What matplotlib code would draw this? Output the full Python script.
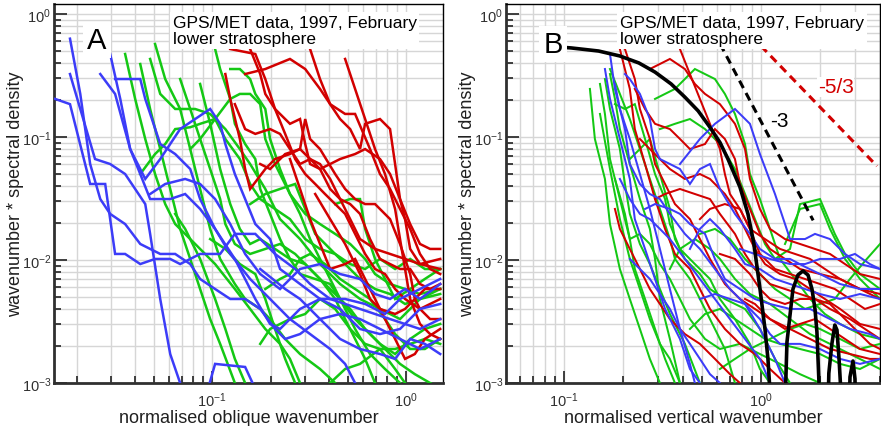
import matplotlib
matplotlib.use('Agg')
from matplotlib import pyplot as plt
from matplotlib.ticker import LogLocator, NullFormatter
import numpy as np

plt.rcParams['font.family'] = ['Liberation Sans', 'DejaVu Sans']
plt.rcParams['lines.scale_dashes'] = False

BLUE = '#3c3cf8'
GREEN = '#14c814'
RED = '#d20000'

# ---------- panel A: normalised oblique wavenumber ----------
a_blue_k = [
    [0.0155, 0.0185, 0.0235, 0.0281, 0.0298, 0.0316, 0.0356, 0.0426, 0.0508, 0.0608, 0.0684, 0.0867,
     0.110, 0.131, 0.167, 0.211, 0.268, 0.320, 0.406, 0.579, 0.827, 1.18, 1.50],
    [0.0185, 0.0249, 0.0298, 0.0356, 0.0401, 0.0452, 0.0479, 0.0540, 0.0608, 0.0684, 0.0726],
    [0.0185, 0.0209, 0.0235, 0.0265, 0.0298, 0.0356, 0.0426, 0.0540, 0.0645, 0.0771, 0.0867, 0.1036,
     0.124, 0.148, 0.177, 0.211, 0.238, 0.284, 0.360, 0.457, 0.579, 0.734, 0.931, 1.18, 1.50],
    [0.0265, 0.0316, 0.0378, 0.0452, 0.0540, 0.0684, 0.0977, 0.110, 0.117, 0.131, 0.148, 0.167,
     0.199, 0.224, 0.284, 0.360, 0.457, 0.579, 0.734, 0.931, 1.18, 1.50],
    [0.0316, 0.0426, 0.0452, 0.0540, 0.0645, 0.0771, 0.0867, 0.1036, 0.124, 0.157, 0.199, 0.252,
     0.320, 0.406, 0.485, 0.546, 0.615],
    [0.0298, 0.0336, 0.0378, 0.0426, 0.0479, 0.0608, 0.0726, 0.0867, 0.1036, 0.131, 0.167, 0.199,
     0.224, 0.284, 0.360, 0.485, 0.615, 0.779, 0.931, 1.18, 1.50],
    [0.177, 0.238, 0.284, 0.360, 0.457, 0.579, 0.734, 0.878, 1.05, 1.25, 1.50],
    [0.0479, 0.0573, 0.0726, 0.0867, 0.1036, 0.124, 0.148, 0.177, 0.224, 0.284, 0.360, 0.457,
     0.579, 0.692, 0.827, 0.988, 1.18, 1.50],
    [0.0920, 0.1036, 0.148, 0.167],
]
a_blue_s = [
    [0.204, 0.185, 0.0415, 0.0415, 0.0215, 0.0112, 0.0112, 0.00927, 0.0102, 0.0102, 0.00927, 0.0112,
     0.0112, 0.0163, 0.0163, 0.0112, 0.00845, 0.00638, 0.00482, 0.00400, 0.00331, 0.00275, 0.00331],
    [0.325, 0.0662, 0.0603, 0.0500, 0.0378, 0.0285, 0.0163, 0.00482, 0.00172, 0.001, 0.000741],
    [0.63, 0.224, 0.0603, 0.0313, 0.0237, 0.0196, 0.0135, 0.0112, 0.0112, 0.00927, 0.00701, 0.00581,
     0.00482, 0.00482, 0.0040, 0.00275, 0.00228, 0.0025, 0.00331, 0.00364, 0.00331, 0.00275, 0.00228,
     0.00189, 0.00228],
    [0.325, 0.224, 0.0798, 0.0456, 0.0662, 0.116, 0.169, 0.128, 0.0877, 0.0500, 0.0313, 0.0196,
     0.0148, 0.00845, 0.00638, 0.00482, 0.0040, 0.00275, 0.0025, 0.00275, 0.0040, 0.00439],
    [0.296, 0.296, 0.204, 0.0877, 0.0727, 0.0549, 0.0313, 0.0179, 0.0112, 0.00701, 0.00482, 0.00331,
     0.0025, 0.00189, 0.00143, 0.001, 0.000741],
    [0.473, 0.204, 0.0798, 0.0500, 0.0313, 0.0313, 0.0344, 0.0260, 0.0179, 0.0102, 0.00482, 0.00302,
     0.00275, 0.0040, 0.00482, 0.00482, 0.00439, 0.00364, 0.00482, 0.00581, 0.00701],
    [0.00845, 0.00581, 0.00482, 0.00331, 0.00228, 0.00189, 0.00172, 0.00157, 0.00228, 0.00208, 0.00172],
    [0.0344, 0.0415, 0.0456, 0.0415, 0.0313, 0.0196, 0.0112, 0.00769, 0.00581, 0.00845, 0.00927,
     0.00769, 0.00701, 0.00529, 0.00482, 0.00581, 0.00482, 0.00638],
    [0.000741, 0.00143, 0.00135, 0.000894],
]

a_green_k = [
    [0.0356, 0.0401, 0.0452, 0.0508, 0.0573, 0.0645, 0.0771, 0.0867, 0.1036, 0.131, 0.157, 0.188,
     0.224, 0.252, 0.284, 0.320],
    [0.0426, 0.0479, 0.0540, 0.0608, 0.0684, 0.0771, 0.0867, 0.0977, 0.110, 0.131, 0.148],
    [0.0479, 0.0540, 0.0645, 0.0817, 0.0977, 0.117, 0.139, 0.157, 0.188, 0.224, 0.284, 0.360,
     0.457, 0.579, 0.734, 0.931, 1.18, 1.50],
    [0.0508, 0.0573, 0.0684, 0.0771, 0.0867, 0.0977, 0.110, 0.131, 0.148, 0.177, 0.199, 0.238,
     0.284, 0.360, 0.431, 0.485],
    [0.0426, 0.0508, 0.0573, 0.0645, 0.0771, 0.0867, 0.1036, 0.117, 0.139, 0.157, 0.177, 0.211,
     0.252, 0.302, 0.360, 0.431, 0.515, 0.615, 0.734, 0.878, 1.05, 1.25, 1.50],
    [0.0684, 0.0771, 0.0867, 0.0977, 0.110, 0.117, 0.131, 0.157, 0.188, 0.224, 0.268, 0.320,
     0.382, 0.457, 0.546, 0.652, 0.779, 0.931, 1.11, 1.33, 1.50],
    [0.1036, 0.110, 0.124, 0.131, 0.148, 0.167, 0.177, 0.199, 0.224, 0.252, 0.284, 0.340,
     0.406, 0.457, 0.515, 0.615, 0.734, 0.878, 1.05, 1.25, 1.50],
    [0.0867, 0.0977, 0.110, 0.124, 0.139, 0.157, 0.177, 0.211, 0.252, 0.302, 0.360, 0.431,
     0.485, 0.546, 0.615, 0.692, 0.779],
    [0.0771, 0.0867, 0.1036, 0.124, 0.139, 0.157, 0.177, 0.188, 0.211, 0.252, 0.302, 0.360,
     0.431, 0.515, 0.615, 0.692, 0.827, 0.988, 1.18, 1.50],
    [0.124, 0.139, 0.157, 0.167, 0.188, 0.199, 0.224, 0.252, 0.284, 0.320, 0.360, 0.431,
     0.485, 0.546, 0.652, 0.779, 0.931, 1.05],
    [0.157, 0.188, 0.224, 0.268, 0.302, 0.340, 0.406, 0.485, 0.579, 0.692, 0.827, 0.988, 1.18, 1.50],
    [0.188, 0.224, 0.252, 0.284, 0.320, 0.382, 0.457, 0.546, 0.652, 0.779, 0.878, 1.05, 1.25, 1.50],
    [0.177, 0.199, 0.252, 0.302, 0.360, 0.431, 0.515, 0.615, 0.734, 0.878, 0.988, 1.11],
    [0.406, 0.485, 0.579, 0.734, 0.878, 1.05, 1.25, 1.50],
    [0.431, 0.515, 0.579, 0.615, 0.692, 0.779, 0.878, 1.05, 1.25, 1.50],
    [0.0645, 0.0726, 0.0867, 0.1036, 0.117, 0.131, 0.148, 0.157],
    [0.0977, 0.117, 0.139, 0.167, 0.188, 0.211, 0.238, 0.268],
]
a_green_s = [
    [0.473, 0.204, 0.0964, 0.0500, 0.0285, 0.0196, 0.0148, 0.0123, 0.00927, 0.00581, 0.0040, 0.00275,
     0.00208, 0.00157, 0.001, 0.000741],
    [0.392, 0.169, 0.0798, 0.0378, 0.0179, 0.0102, 0.00581, 0.00331, 0.00208, 0.001, 0.000741],
    [0.431, 0.224, 0.169, 0.169, 0.154, 0.116, 0.0798, 0.0603, 0.0378, 0.0215, 0.0148, 0.00927,
     0.00638, 0.00482, 0.0040, 0.00331, 0.00482, 0.00581],
    [0.570, 0.296, 0.169, 0.0798, 0.0378, 0.0179, 0.0102, 0.00638, 0.00482, 0.0040, 0.00331, 0.00228,
     0.00172, 0.0013, 0.001, 0.000741],
    [0.0500, 0.0727, 0.0877, 0.116, 0.120, 0.128, 0.140, 0.0964, 0.0662, 0.0415, 0.0313, 0.0260,
     0.0215, 0.0148, 0.0123, 0.0112, 0.00927, 0.00845, 0.0102, 0.00845, 0.0102, 0.00845, 0.00845],
    [0.296, 0.169, 0.0964, 0.0549, 0.0313, 0.0196, 0.0135, 0.0112, 0.0123, 0.0135, 0.0112, 0.00845,
     0.00638, 0.00482, 0.00331, 0.0025, 0.00189, 0.00143, 0.00118, 0.001, 0.000894],
    [0.519, 0.357, 0.204, 0.128, 0.0877, 0.0662, 0.0378, 0.0237, 0.0148, 0.0102, 0.00769, 0.00701,
     0.00638, 0.00482, 0.0040, 0.00275, 0.00208, 0.00172, 0.00228, 0.00275, 0.00302],
    [0.270, 0.128, 0.0549, 0.0285, 0.0179, 0.0135, 0.0148, 0.0123, 0.0102, 0.00927, 0.00701, 0.00482,
     0.00331, 0.00228, 0.00157, 0.001, 0.000741],
    [0.0798, 0.0964, 0.140, 0.204, 0.224, 0.224, 0.185, 0.0964, 0.0603, 0.0344, 0.0237, 0.0196,
     0.0163, 0.0135, 0.0102, 0.00769, 0.00638, 0.00581, 0.00529, 0.00581],
    [0.357, 0.357, 0.296, 0.224, 0.169, 0.0964, 0.0549, 0.0344, 0.0237, 0.0148, 0.0102, 0.00581,
     0.0040, 0.00275, 0.00172, 0.0013, 0.001, 0.00081],
    [0.0285, 0.0344, 0.0378, 0.0415, 0.0260, 0.0163, 0.0123, 0.00927, 0.00701, 0.00581, 0.00529,
     0.00439, 0.00482, 0.00529],
    [0.00581, 0.00701, 0.00769, 0.0102, 0.0112, 0.00927, 0.00701, 0.00581, 0.00482, 0.00331, 0.0025,
     0.00189, 0.00189, 0.00228],
    [0.00208, 0.00275, 0.00331, 0.00364, 0.00482, 0.0040, 0.00275, 0.00208, 0.00189, 0.0013, 0.001, 0.00081],
    [0.001, 0.0013, 0.00143, 0.00189, 0.00189, 0.00208, 0.00228, 0.00208],
    [0.0285, 0.0313, 0.0313, 0.0179, 0.0102, 0.00701, 0.00482, 0.00581, 0.00701, 0.00845],
    [0.0237, 0.0179, 0.0102, 0.00482, 0.00275, 0.00157, 0.001, 0.000741],
    [0.0148, 0.0123, 0.00927, 0.00769, 0.00482, 0.00275, 0.00157, 0.001],
]

a_red_k = [
    [0.124, 0.167, 0.188, 0.211, 0.238, 0.268, 0.302, 0.340, 0.382, 0.431, 0.485, 0.546, 0.615,
     0.692, 0.779, 0.878, 0.988, 1.18, 1.50],
    [0.117, 0.124, 0.139, 0.148, 0.157, 0.188, 0.211, 0.252, 0.284, 0.320, 0.360, 0.406, 0.457,
     0.515, 0.579, 0.692, 0.827, 0.988, 1.18, 1.50],
    [0.148, 0.188, 0.252, 0.302, 0.360, 0.406, 0.485, 0.546, 0.652, 0.734, 0.827, 0.931, 1.05,
     1.18, 1.33, 1.50],
    [0.157, 0.177, 0.188, 0.211, 0.252, 0.284, 0.302, 0.320, 0.360, 0.406, 0.457, 0.546, 0.615,
     0.734, 0.827, 0.931, 1.05, 1.18, 1.33, 1.50],
    [0.320, 0.360, 0.406, 0.457, 0.515, 0.579, 0.615, 0.734, 0.827, 0.878, 0.931, 0.988, 1.05, 1.18, 1.50],
    [0.131, 0.148, 0.167, 0.199, 0.224, 0.252, 0.284, 0.320, 0.360, 0.406, 0.457, 0.515, 0.579,
     0.652, 0.734, 0.827, 0.931, 1.05, 1.18, 1.33, 1.50],
    [0.177, 0.199, 0.238, 0.284, 0.302, 0.320, 0.360, 0.431, 0.485, 0.546, 0.615, 0.692, 0.827,
     0.931, 1.05, 1.11, 1.18, 1.33, 1.50],
    [0.252, 0.284, 0.320, 0.360, 0.406, 0.485, 0.546, 0.615, 0.692, 0.779, 0.878, 0.988, 1.11, 1.25, 1.50],
    [0.340, 0.406, 0.485, 0.579, 0.652, 0.734, 0.878, 0.988, 1.11, 1.25, 1.50],
    [0.485, 0.546, 0.615, 0.692, 0.779, 0.878, 0.931, 0.988, 1.05, 1.18, 1.33, 1.50],
]
a_red_s = [
    [0.519, 0.473, 0.296, 0.169, 0.106, 0.0662, 0.0500, 0.0415, 0.0344, 0.0285, 0.0237, 0.0163, 0.0112,
     0.00845, 0.00769, 0.00581, 0.00482, 0.0040, 0.00482],
    [0.325, 0.204, 0.0964, 0.0549, 0.0378, 0.0549, 0.0662, 0.0727, 0.0798, 0.0662, 0.0603, 0.0456,
     0.0313, 0.0215, 0.0148, 0.0123, 0.0112, 0.0102, 0.00927, 0.00845],
    [0.325, 0.357, 0.431, 0.357, 0.246, 0.185, 0.154, 0.154, 0.0798, 0.0500, 0.0378, 0.0260, 0.0179,
     0.0112, 0.00845, 0.00769],
    [0.519, 0.325, 0.224, 0.169, 0.128, 0.140, 0.0877, 0.0603, 0.0549, 0.0603, 0.0662, 0.0727, 0.0798,
     0.0662, 0.0500, 0.0313, 0.0196, 0.0135, 0.0123, 0.0123],
    [0.519, 0.296, 0.185, 0.140, 0.116, 0.0798, 0.128, 0.140, 0.116, 0.0603, 0.0313, 0.0215, 0.0123,
     0.00927, 0.0102],
    [0.185, 0.116, 0.106, 0.116, 0.106, 0.0798, 0.0603, 0.0662, 0.0549, 0.0378, 0.0313, 0.0285, 0.0237,
     0.0148, 0.0102, 0.00927, 0.00845, 0.00845, 0.00638, 0.00581, 0.00638],
    [0.0603, 0.0549, 0.0727, 0.0798, 0.140, 0.0964, 0.0798, 0.0500, 0.0378, 0.0313, 0.0285, 0.0285,
     0.0215, 0.0135, 0.00769, 0.00482, 0.0040, 0.00331, 0.00331],
    [0.0662, 0.0378, 0.0215, 0.0135, 0.00845, 0.00927, 0.0102, 0.00701, 0.00482, 0.00331, 0.00228,
     0.00157, 0.00172, 0.00228, 0.00275],
    [0.0344, 0.0215, 0.0135, 0.00769, 0.00482, 0.0040, 0.00364, 0.0040, 0.00482, 0.00581, 0.00581],
    [0.431, 0.246, 0.140, 0.0798, 0.0500, 0.0260, 0.0148, 0.00845, 0.00482, 0.00302, 0.0025, 0.00228],
]

# ---------- panel B: normalised vertical wavenumber ----------
b_green_k = [
    [0.1524, 0.1615, 0.1713, 0.1923, 0.216, 0.229, 0.258, 0.290, 0.326, 0.366, 0.388],
    [0.1615, 0.1713, 0.1923, 0.204, 0.216, 0.243, 0.273, 0.307, 0.345, 0.411, 0.490, 0.520],
    [0.1713, 0.1815, 0.1923, 0.216, 0.243, 0.273, 0.290, 0.307, 0.345, 0.388, 0.411],
    [0.1713, 0.1923, 0.216, 0.243, 0.273, 0.307, 0.345, 0.366, 0.436, 0.490, 0.551, 0.656, 0.738, 0.782],
    [0.1815, 0.204, 0.229, 0.258, 0.290, 0.326, 0.345, 0.388, 0.462, 0.551, 0.619, 0.738, 0.879,
     0.988, 1.111, 1.178],
    [0.216, 0.243, 0.273, 0.307, 0.345, 0.366, 0.411, 0.490, 0.551, 0.656, 0.830, 0.988, 1.178,
     1.404, 1.489],
    [0.290, 0.366, 0.462, 0.584, 0.656, 0.738, 0.830, 0.879, 0.988, 1.111, 1.249, 1.489, 1.774,
     2.11, 2.52, 3.18, 4.02],
    [0.307, 0.366, 0.436, 0.520, 0.619, 0.738, 0.830, 0.932, 1.048, 1.178, 1.404, 1.578, 1.993,
     2.37, 2.67, 3.18, 4.02],
    [0.1524, 0.1713, 0.1923, 0.216, 0.243, 0.273, 0.307, 0.345, 0.388, 0.411],
    [0.1355, 0.1436, 0.1615, 0.1713, 0.1923, 0.216, 0.243, 0.273, 0.307, 0.326],
    [0.490, 0.584, 0.696, 0.830, 0.988, 1.178, 1.404, 1.673, 1.993, 2.37, 2.83, 3.37, 4.02],
    [0.436, 0.520, 0.619, 0.738, 0.879, 1.048, 1.249, 1.578, 1.993, 2.52, 3.18, 4.02],
    [0.345, 0.388, 0.462, 0.551, 0.619, 0.738, 0.879, 1.111, 1.404, 1.774, 2.24, 2.83, 3.57, 4.02],
    [0.619, 0.738, 0.879, 1.111, 1.404, 1.673, 1.993, 2.52, 3.18, 4.02],
    [1.324, 1.578, 1.993, 2.24, 2.67, 3.18, 4.02],
    [0.1815, 0.204, 0.216, 0.243, 0.273, 0.307, 0.345, 0.388, 0.436, 0.520, 0.619, 0.782, 0.988,
     1.249, 1.578, 1.993, 2.24],
]
b_green_s = [
    [0.270, 0.154, 0.0662, 0.0313, 0.0148, 0.00845, 0.00482, 0.00275, 0.00157, 0.001, 0.000741],
    [0.296, 0.169, 0.0798, 0.0415, 0.0237, 0.0135, 0.00927, 0.00581, 0.00364, 0.00208, 0.001, 0.000741],
    [0.325, 0.204, 0.116, 0.0603, 0.0313, 0.0179, 0.0102, 0.00482, 0.00228, 0.001, 0.000741],
    [0.357, 0.224, 0.140, 0.0798, 0.0456, 0.0260, 0.0148, 0.0102, 0.00701, 0.00482, 0.00331, 0.00189,
     0.001, 0.000741],
    [0.185, 0.169, 0.185, 0.0964, 0.0500, 0.0313, 0.0196, 0.0123, 0.00927, 0.00701, 0.00482, 0.00331,
     0.00208, 0.0013, 0.001, 0.000741],
    [0.0662, 0.0798, 0.0964, 0.0500, 0.0260, 0.0148, 0.0102, 0.00769, 0.00581, 0.00482, 0.0040,
     0.00275, 0.00157, 0.001, 0.000741],
    [0.204, 0.246, 0.357, 0.296, 0.224, 0.154, 0.0877, 0.0500, 0.0313, 0.0179, 0.0102, 0.00701,
     0.00482, 0.00364, 0.00302, 0.0025, 0.00228],
    [0.116, 0.128, 0.140, 0.116, 0.0877, 0.0549, 0.0344, 0.0215, 0.0135, 0.0102, 0.0123, 0.0285,
     0.0313, 0.0163, 0.0112, 0.00769, 0.00581],
    [0.154, 0.0549, 0.0215, 0.0102, 0.00581, 0.00331, 0.00208, 0.00157, 0.001, 0.000741],
    [0.246, 0.0964, 0.0456, 0.0196, 0.00845, 0.00482, 0.00275, 0.00157, 0.001, 0.000741],
    [0.0163, 0.0179, 0.0148, 0.0102, 0.00769, 0.00581, 0.00482, 0.0040, 0.00439, 0.00482, 0.00701,
     0.0098, 0.0135],
    [0.00275, 0.00364, 0.0040, 0.00331, 0.00275, 0.00228, 0.00208, 0.00189, 0.00172, 0.00143, 0.0013, 0.00157],
    [0.00845, 0.0123, 0.0148, 0.0123, 0.0102, 0.00701, 0.00529, 0.00439, 0.00331, 0.0025, 0.00208,
     0.00172, 0.00143, 0.0013],
    [0.0013, 0.00157, 0.00189, 0.00228, 0.00275, 0.00302, 0.00275, 0.00228, 0.00189, 0.00208],
    [0.0135, 0.0260, 0.0285, 0.0179, 0.0102, 0.00701, 0.00482],
    [0.0456, 0.0237, 0.0148, 0.0163, 0.0135, 0.00927, 0.00701, 0.00482, 0.00331, 0.00228, 0.00189,
     0.00208, 0.00172, 0.00143, 0.00118, 0.001, 0.000894],
]

b_blue_k = [
    [0.1615, 0.1713, 0.1923, 0.216, 0.229, 0.258, 0.290, 0.326, 0.388, 0.436, 0.490, 0.520],
    [0.1713, 0.1815, 0.204, 0.216, 0.243, 0.273, 0.307, 0.345, 0.411, 0.490, 0.584, 0.696, 0.830,
     0.988, 1.178, 1.324, 1.404],
    [0.204, 0.216, 0.243, 0.273, 0.290, 0.307, 0.345, 0.388, 0.436, 0.490, 0.551, 0.619, 0.738,
     0.879, 0.988, 1.178, 1.404, 1.673, 1.993, 2.52, 3.18, 4.02],
    [0.388, 0.490, 0.584, 0.738, 0.879, 0.988, 1.178, 1.404, 1.673, 1.880, 2.24, 2.67, 3.18, 4.02],
    [0.1923, 0.216, 0.243, 0.273, 0.307, 0.345, 0.411, 0.490, 0.584, 0.696, 0.830, 0.988, 1.111, 1.178],
    [0.258, 0.290, 0.345, 0.388, 0.436, 0.520, 0.584, 0.656, 0.782, 0.932, 1.111, 1.404, 1.774,
     2.24, 2.83, 3.57, 4.02],
    [0.436, 0.490, 0.551, 0.619, 0.738, 0.830, 0.988, 1.178, 1.404, 1.673, 1.993, 2.52, 3.18, 4.02],
    [0.216, 0.243, 0.273, 0.307, 0.345, 0.388, 0.436, 0.490, 0.551, 0.619, 0.656],
    [0.782, 0.932, 1.111, 1.404, 1.673, 1.993, 2.52, 3.00, 3.57, 4.02],
    [0.490, 0.584, 0.696, 0.830, 0.988, 1.111, 1.249, 1.578, 1.993, 2.52, 3.18, 4.02],
    [0.1815, 0.1923, 0.216, 0.243, 0.273, 0.307, 0.345, 0.388, 0.436, 0.462, 0.490],
]
b_blue_s = [
    [0.357, 0.204, 0.0964, 0.0456, 0.0215, 0.0123, 0.00701, 0.0040, 0.00228, 0.0013, 0.001, 0.000741],
    [0.473, 0.246, 0.116, 0.0603, 0.0415, 0.0344, 0.0313, 0.0237, 0.0163, 0.0123, 0.00845, 0.00581,
     0.00439, 0.00275, 0.00157, 0.001, 0.000741],
    [0.325, 0.296, 0.224, 0.140, 0.0798, 0.0662, 0.0603, 0.0549, 0.0415, 0.0549, 0.0603, 0.0378,
     0.0237, 0.0163, 0.0123, 0.0102, 0.0102, 0.0088, 0.00769, 0.00638, 0.00581, 0.00581],
    [0.0603, 0.0964, 0.128, 0.169, 0.128, 0.0727, 0.0344, 0.0148, 0.0148, 0.0163, 0.0148, 0.0112,
     0.00927, 0.00845],
    [0.0456, 0.0313, 0.0237, 0.0215, 0.0179, 0.0148, 0.0102, 0.00701, 0.00482, 0.00331, 0.00228,
     0.00157, 0.001, 0.000741],
    [0.0260, 0.0285, 0.0260, 0.0237, 0.0196, 0.0163, 0.0102, 0.00701, 0.00581, 0.00482, 0.00439,
     0.0040, 0.0040, 0.00331, 0.00275, 0.0025, 0.00228],
    [0.0123, 0.0179, 0.0215, 0.0179, 0.0123, 0.00927, 0.00845, 0.00701, 0.00638, 0.00581, 0.00529,
     0.00482, 0.00529, 0.00482],
    [0.0102, 0.00845, 0.00701, 0.00529, 0.0040, 0.00275, 0.00208, 0.00157, 0.00118, 0.001, 0.000741],
    [0.0123, 0.0112, 0.0102, 0.00927, 0.00927, 0.0102, 0.0102, 0.0112, 0.00927, 0.00845],
    [0.00482, 0.00529, 0.00482, 0.00439, 0.00331, 0.0025, 0.00208, 0.00208, 0.00189, 0.00157,
     0.00143, 0.00157],
    [0.270, 0.169, 0.0964, 0.0500, 0.0260, 0.0123, 0.00581, 0.00275, 0.00143, 0.001, 0.000741],
]

b_red_k = [
    [0.1923, 0.216, 0.229, 0.258, 0.290, 0.326, 0.366, 0.436, 0.490, 0.551, 0.656, 0.782, 0.932,
     1.111, 1.324, 1.404],
    [0.204, 0.229, 0.243, 0.273, 0.290, 0.326, 0.366, 0.436, 0.490, 0.551, 0.656, 0.782, 0.932,
     1.111, 1.404, 1.774, 2.24, 2.83, 3.57, 4.02],
    [0.388, 0.436, 0.490, 0.551, 0.619, 0.656, 0.696, 0.782, 0.879, 1.048, 1.249, 1.489, 1.774,
     2.11, 2.52, 3.18, 4.02],
    [0.273, 0.345, 0.411, 0.462, 0.520, 0.619, 0.738, 0.830, 0.879, 0.988, 1.111, 1.324, 1.578,
     1.880, 2.24, 2.67, 3.18, 4.02],
    [0.229, 0.258, 0.290, 0.345, 0.388, 0.436, 0.520, 0.584, 0.656, 0.738, 0.782, 0.879, 0.988,
     1.111, 1.324, 1.578, 1.993, 2.52, 3.18, 4.02],
    [0.243, 0.273, 0.307, 0.345, 0.411, 0.490, 0.551, 0.656, 0.738, 0.830, 0.932, 1.048, 1.249,
     1.489, 1.774, 2.11, 2.52, 3.18, 4.02],
    [0.290, 0.326, 0.388, 0.462, 0.551, 0.619, 0.738, 0.830, 0.932, 1.111, 1.324, 1.578, 1.880,
     2.24, 2.83, 3.37, 4.02],
    [0.490, 0.551, 0.656, 0.782, 0.879, 0.988, 1.178, 1.404, 1.673, 1.993, 2.37, 2.83, 3.37, 4.02],
    [0.619, 0.738, 0.879, 0.988, 1.111, 1.324, 1.578, 1.880, 2.24, 2.67, 3.18, 3.57, 4.02],
    [0.830, 0.932, 1.111, 1.324, 1.578, 1.880, 2.24, 2.67, 3.18, 4.02],
    [0.1815, 0.1923, 0.216, 0.243, 0.273, 0.307, 0.345, 0.411, 0.490, 0.584, 0.696, 0.782, 0.830],
]
b_red_s = [
    [0.519, 0.246, 0.116, 0.0603, 0.0313, 0.0179, 0.0112, 0.00845, 0.00581, 0.0040, 0.00275, 0.00208,
     0.00172, 0.0013, 0.001, 0.000741],
    [0.519, 0.296, 0.169, 0.0964, 0.0603, 0.0415, 0.0285, 0.0215, 0.0148, 0.0102, 0.00638, 0.00482,
     0.0040, 0.00331, 0.00275, 0.00228, 0.00189, 0.00172, 0.00157, 0.00157],
    [0.519, 0.325, 0.204, 0.128, 0.0798, 0.0500, 0.0344, 0.0260, 0.0179, 0.0148, 0.0123, 0.0112,
     0.0102, 0.00845, 0.00701, 0.00581, 0.00529],
    [0.357, 0.431, 0.357, 0.270, 0.224, 0.185, 0.128, 0.0798, 0.0456, 0.0260, 0.0179, 0.0148, 0.0135,
     0.0123, 0.0112, 0.00927, 0.00769, 0.00701],
    [0.246, 0.169, 0.128, 0.116, 0.0964, 0.0798, 0.0877, 0.116, 0.0964, 0.0662, 0.0415, 0.0260, 0.0163,
     0.0123, 0.0102, 0.00845, 0.00769, 0.00701, 0.00581, 0.00482],
    [0.0964, 0.0798, 0.0662, 0.0549, 0.0456, 0.0500, 0.0456, 0.0344, 0.0260, 0.0179, 0.0123, 0.00927,
     0.00769, 0.00701, 0.00581, 0.00482, 0.0040, 0.00302, 0.00275],
    [0.0313, 0.0344, 0.0378, 0.0344, 0.0313, 0.0237, 0.0163, 0.0112, 0.00845, 0.00638, 0.00581,
     0.00529, 0.00482, 0.0040, 0.00331, 0.00275, 0.00228],
    [0.0215, 0.0260, 0.0285, 0.0260, 0.0179, 0.0112, 0.00845, 0.00769, 0.00701, 0.00638, 0.00581,
     0.00482, 0.0040, 0.00439],
    [0.0112, 0.0102, 0.00769, 0.00581, 0.00482, 0.00439, 0.00482, 0.00482, 0.00439, 0.00331, 0.0025,
     0.00208, 0.00189],
    [0.00482, 0.00439, 0.00331, 0.00275, 0.00302, 0.00331, 0.00275, 0.00228, 0.00189, 0.00172],
    [0.0260, 0.0179, 0.0123, 0.00845, 0.00581, 0.00439, 0.00331, 0.0025, 0.00208, 0.00157, 0.00118,
     0.001, 0.000741],
]

# model spectrum (black) with its side lobes
model_k = [0.100, 0.1086, 0.150, 0.192, 0.240, 0.290, 0.350, 0.411, 0.480, 0.551, 0.620, 0.680, 0.782,
           0.859, 0.921, 0.989, 1.048, 1.085, 1.12, 1.15, 1.29, 1.33, 1.355, 1.453, 1.54, 1.633, 1.733,
           1.815, 1.88, 1.923, 1.97, 2.01, 2.14, 2.21, 2.29, 2.37, 2.43, 2.49, 2.55, 2.61, 2.73, 2.83,
           2.93, 3.00, 3.07]
model_s = [0.535, 0.530, 0.500, 0.456, 0.400, 0.337, 0.270, 0.211, 0.163, 0.120, 0.090, 0.0662, 0.0392,
           0.0237, 0.0135, 0.0058, 0.00275, 0.00157, 0.0007, 0.0001, 0.0001, 0.0008, 0.00215, 0.0058,
           0.00755, 0.00815, 0.00755, 0.0058, 0.0040, 0.0026, 0.001, 0.0001, 0.0001, 0.0012, 0.00208,
           0.00296, 0.0027, 0.00157, 0.0008, 0.0001, 0.0001, 0.00112, 0.00151, 0.00108, 0.0001]

slope3_k = [0.62, 1.84]
slope3_s = [0.572, 0.021]
slope53_k = [1.0, 3.88]
slope53_s = [0.55, 0.058]

title_text = 'GPS/MET data, 1997, February\nlower stratosphere'


def style_axes(ax, xlim, xlabel):
    ax.set_xscale('log')
    ax.set_yscale('log')
    ax.set_xlim(*xlim)
    ax.set_ylim(1e-3, 1.206)
    ax.xaxis.set_major_locator(LogLocator(base=10, numticks=10))
    ax.xaxis.set_minor_locator(LogLocator(base=10, subs=np.arange(2, 10), numticks=20))
    ax.yaxis.set_major_locator(LogLocator(base=10, numticks=10))
    ax.yaxis.set_minor_locator(LogLocator(base=10, subs=np.arange(2, 10), numticks=20))
    ax.xaxis.set_minor_formatter(NullFormatter())
    ax.yaxis.set_minor_formatter(NullFormatter())
    ax.grid(True, which='both', color='#d6d6d6', linewidth=1.0)
    ax.set_axisbelow(True)
    for side in ['left', 'bottom']:
        ax.spines[side].set_linewidth(2.0)
        ax.spines[side].set_color('#303030')
    for side in ['top', 'right']:
        ax.spines[side].set_linewidth(1.0)
        ax.spines[side].set_color('black')
    ax.tick_params(which='both', direction='in', top=False, right=False, width=1.3, color='#303030')
    ax.tick_params(which='major', length=9)
    ax.tick_params(which='minor', length=5)
    ax.tick_params(axis='x', labelsize=10.5, pad=5, colors='#303030')
    ax.tick_params(axis='y', labelsize=10.5, pad=2, colors='#303030')
    ax.set_xlabel(xlabel, fontsize=13, labelpad=0.5, color='#202020')
    ax.set_ylabel('wavenumber * spectral density', fontsize=13, labelpad=-1.5, color='#202020')
    ax.text(0.305, 0.972, title_text, transform=ax.transAxes, ha='left', va='top',
            fontsize=12.5, linespacing=1.12, zorder=6,
            bbox=dict(facecolor='white', edgecolor='none', pad=2.0))


def draw_group(ax, ks, ss, color, lw):
    for k, s in zip(ks, ss):
        ax.plot(k, s, color=color, linewidth=lw, solid_joinstyle='miter', zorder=3)


fig = plt.figure(figsize=(8.81, 4.27), dpi=100)
ax_a = fig.add_axes([0.0613, 0.1007, 0.4415, 0.8876])
ax_b = fig.add_axes([0.5743, 0.1007, 0.4246, 0.8876])

# panel A
draw_group(ax_a, a_green_k, a_green_s, GREEN, 1.8)
draw_group(ax_a, a_red_k, a_red_s, RED, 1.8)
draw_group(ax_a, a_blue_k, a_blue_s, BLUE, 1.8)
style_axes(ax_a, (0.0153, 1.55), 'normalised oblique wavenumber')
ax_a.text(0.1105, 0.884, 'A', transform=ax_a.transAxes, ha='center', va='baseline',
          fontsize=21, zorder=6, bbox=dict(facecolor='white', edgecolor='none', pad=3))

# panel B
draw_group(ax_b, b_green_k, b_green_s, GREEN, 1.45)
draw_group(ax_b, b_red_k, b_red_s, RED, 1.45)
draw_group(ax_b, b_blue_k, b_blue_s, BLUE, 1.45)
ax_b.plot(model_k, model_s, color='black', linewidth=2.6, zorder=4)
ax_b.plot(slope3_k, slope3_s, color='black', linewidth=2.2, dashes=(6, 4), zorder=4)
ax_b.plot(slope53_k, slope53_s, color=RED, linewidth=2.2, dashes=(6, 4), zorder=4)
ax_b.text(1.234, 0.137, '-3', ha='center', va='center', fontsize=15, color='black', zorder=5,
          bbox=dict(facecolor='white', edgecolor='none', pad=0.5))
ax_b.text(2.40, 0.255, '-5/3', ha='center', va='center', fontsize=15, color=RED, zorder=5,
          bbox=dict(facecolor='white', edgecolor='none', pad=0.5))
style_axes(ax_b, (0.0508, 4.02), 'normalised vertical wavenumber')
ax_b.text(0.126, 0.873, 'B', transform=ax_b.transAxes, ha='center', va='baseline',
          fontsize=21, zorder=6, bbox=dict(facecolor='white', edgecolor='none', pad=3))

fig.savefig('out.png', dpi=100)
